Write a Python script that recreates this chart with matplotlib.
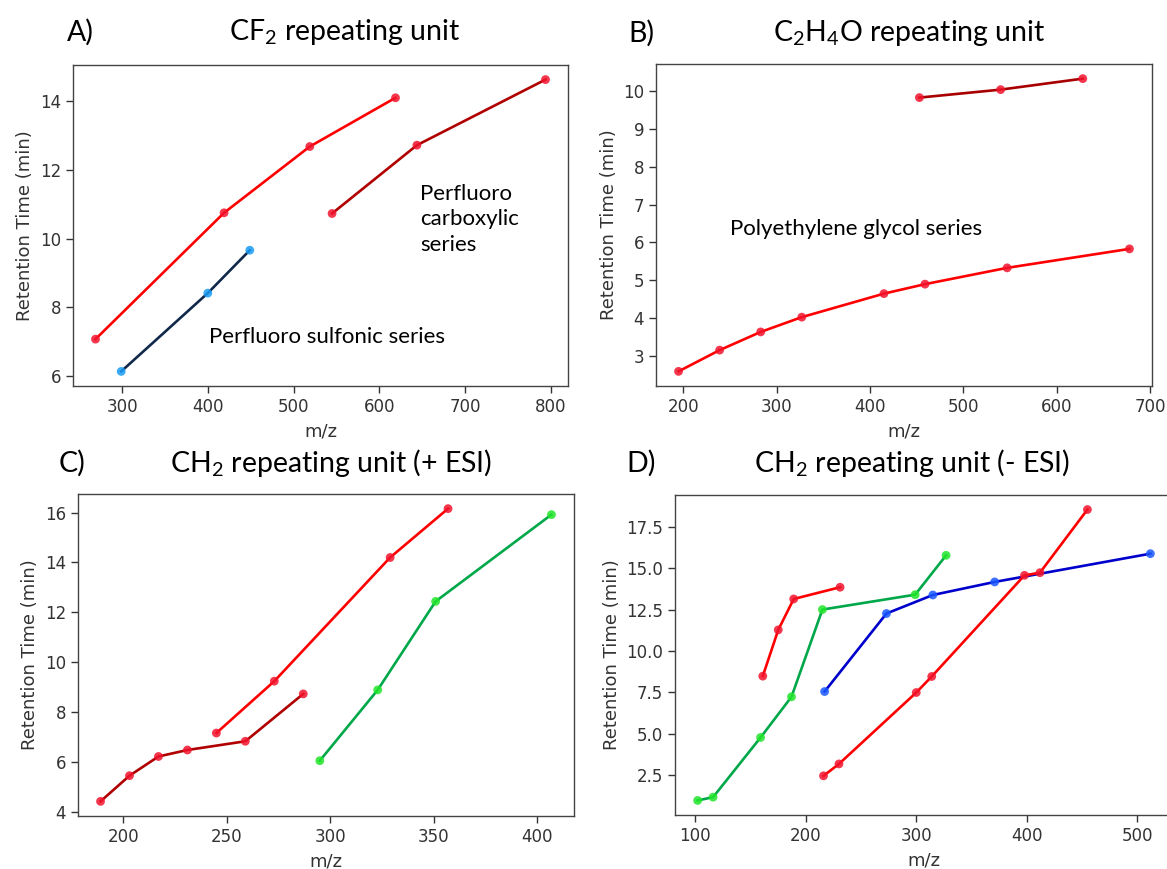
import numpy as np
import matplotlib.pyplot as plt

plt.rcParams['font.family'] = ['DejaVu Sans']
plt.rcParams['mathtext.fontset'] = 'custom'
plt.rcParams['mathtext.rm'] = 'Lato'

# A) CF2 repeating unit
a_carb1_mz = [269, 419, 519, 619]
a_carb1_rt = [7.07, 10.75, 12.68, 14.10]
a_carb2_mz = [545, 644, 794]
a_carb2_rt = [10.73, 12.72, 14.63]
a_sulf_mz = [299, 400, 449]
a_sulf_rt = [6.13, 8.41, 9.66]

# B) C2H4O repeating unit
b_top_mz = [453, 540, 628]
b_top_rt = [9.82, 10.03, 10.32]
b_peg_mz = [195, 239, 283, 327, 415, 459, 547, 678]
b_peg_rt = [2.60, 3.16, 3.64, 4.03, 4.65, 4.90, 5.33, 5.83]

# C) CH2 repeating unit (+ ESI)
c_dark_mz = [189, 203, 217, 231, 259, 287]
c_dark_rt = [4.42, 5.45, 6.22, 6.48, 6.83, 8.73]
c_red_mz = [245, 273, 329, 357]
c_red_rt = [7.16, 9.24, 14.20, 16.16]
c_green_mz = [295, 323, 351, 407]
c_green_rt = [6.05, 8.89, 12.44, 15.92]

# D) CH2 repeating unit (- ESI)
d_red1_mz = [161, 175, 189, 231]
d_red1_rt = [8.47, 11.27, 13.14, 13.85]
d_green_mz = [102, 116, 159, 187, 215, 299, 327]
d_green_rt = [0.95, 1.15, 4.76, 7.22, 12.50, 13.40, 15.78]
d_blue_mz = [217, 273, 315, 371, 512]
d_blue_rt = [7.54, 12.26, 13.38, 14.17, 15.88]
d_red2_mz = [216, 230, 300, 314, 398, 412, 455]
d_red2_rt = [2.44, 3.16, 7.48, 8.45, 14.57, 14.73, 18.55]

RED_PT = '#f2142e'
GREEN_PT = '#22e62a'
BLUE_PT = '#1a58ff'

W, H = 1167, 869
fig = plt.figure(figsize=(W / 100, H / 100), dpi=100)


def make_ax(left, right, top, bottom):
    ax = fig.add_axes([left / W, (H - bottom) / H, (right - left) / W, (bottom - top) / H])
    for s in ax.spines.values():
        s.set_color('#444444')
        s.set_linewidth(1.0)
    ax.tick_params(labelsize=12, colors='#333333', length=5, width=1.0)
    ax.set_xlabel('m/z', fontsize=13, color='#333333', labelpad=5)
    ax.set_ylabel('Retention Time (min)', fontsize=13, color='#333333')
    return ax


def series(ax, x, y, line, pt):
    ax.plot(x, y, color=line, lw=1.9, zorder=2)
    ax.scatter(x, y, s=40, color=pt, alpha=0.85, edgecolors='none', zorder=3)


def title(x_lab, x_mid, y, label, text):
    fig.text(x_lab / W, 1 - y / H, label, fontsize=20.5, family='Lato', va='center', ha='left')
    fig.text(x_mid / W, 1 - y / H, text, fontsize=20.5, family='Lato', va='center', ha='center')


axA = make_ax(73, 568, 65, 386)
series(axA, a_carb1_mz, a_carb1_rt, '#ff0000', RED_PT)
series(axA, a_carb2_mz, a_carb2_rt, '#b00000', RED_PT)
series(axA, a_sulf_mz, a_sulf_rt, '#10284a', '#1a9cf5')
axA.text(648, 10.56, 'Perfluoro\ncarboxylic\nseries', family='Lato', fontsize=16,
         va='center', ha='left', linespacing=1.35)
axA.text(402, 7.14, 'Perfluoro sulfonic series', family='Lato', fontsize=16,
         va='center', ha='left')

axB = make_ax(656, 1152, 64, 386)
series(axB, b_top_mz, b_top_rt, '#a80000', RED_PT)
series(axB, b_peg_mz, b_peg_rt, '#ff0000', RED_PT)
axB.text(250, 6.35, 'Polyethylene glycol series', family='Lato', fontsize=16,
         va='center', ha='left')

axC = make_ax(78, 574, 494, 816)
series(axC, c_dark_mz, c_dark_rt, '#b00000', RED_PT)
series(axC, c_red_mz, c_red_rt, '#ff0000', RED_PT)
series(axC, c_green_mz, c_green_rt, '#00a84a', GREEN_PT)

axD = make_ax(675, 1173, 495, 815)
series(axD, d_red1_mz, d_red1_rt, '#ff0000', RED_PT)
series(axD, d_green_mz, d_green_rt, '#00a84a', GREEN_PT)
series(axD, d_blue_mz, d_blue_rt, '#0000cc', BLUE_PT)
series(axD, d_red2_mz, d_red2_rt, '#ff0000', RED_PT)

title(67, 345, 32, 'A)', r'CF$_{\mathregular{2}}$ repeating unit')
title(628, 909, 33, 'B)', r'C$_{\mathregular{2}}$H$_{\mathregular{4}}$O repeating unit')
title(59, 331, 463, 'C)', r'CH$_{\mathregular{2}}$ repeating unit (+ ESI)')
title(626, 912, 463, 'D)', r'CH$_{\mathregular{2}}$ repeating unit (- ESI)')

fig.savefig('out.png', dpi=100)
